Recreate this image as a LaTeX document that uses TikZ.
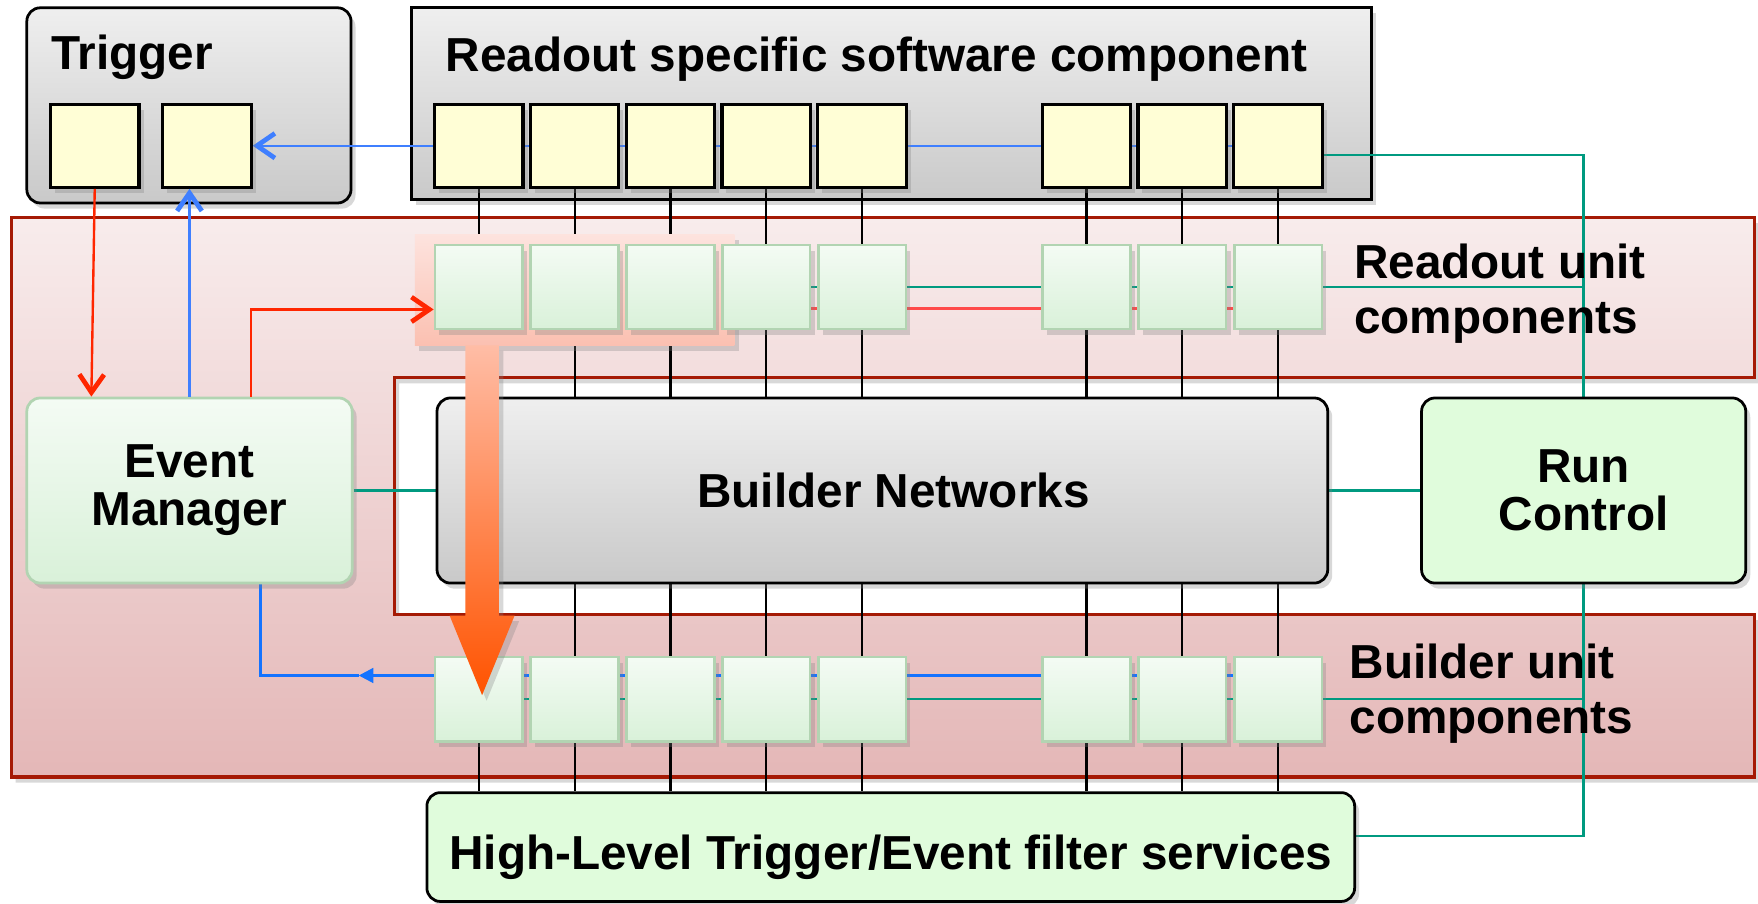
\documentclass[tikz,border=0pt]{standalone}
\usepackage{fontspec}
\setmainfont{Liberation Sans}
\usetikzlibrary{arrows.meta,shadows}

\definecolor{framehi}{HTML}{EFEFEF}
\definecolor{framelo}{HTML}{C9C9C9}
\definecolor{roybg}{HTML}{FFFED6}
\definecolor{unithi}{HTML}{F4FBF4}
\definecolor{unitlo}{HTML}{D9F1D9}
\definecolor{unitedge}{HTML}{B2D4B2}
\definecolor{svcbg}{HTML}{E0FCDC}
\definecolor{pinkhi}{HTML}{F8ECEC}
\definecolor{pinklo}{HTML}{E4B7B7}
\definecolor{pinkedge}{HTML}{A51A05}
\definecolor{glowhi}{HTML}{FDE3DE}
\definecolor{glowlo}{HTML}{FBC0B1}
\definecolor{arrowhi}{HTML}{FFBDA6}
\definecolor{arrowlo}{HTML}{FF5300}
\definecolor{wblue}{HTML}{3F7FFF}
\definecolor{bublue}{HTML}{1573FF}
\definecolor{wred}{HTML}{FF2600}
\definecolor{rowred}{HTML}{FF4A4A}
\definecolor{wteal}{HTML}{009A80}

\pgfdeclarelayer{base}
\pgfdeclarelayer{frames}
\pgfdeclarelayer{wires}
\pgfdeclarelayer{glow}
\pgfdeclarelayer{front}
\pgfsetlayers{base,frames,wires,glow,main,front}

\tikzset{
  softshadow/.style={drop shadow={opacity=0.3,shadow xshift=0.04cm,shadow yshift=-0.05cm}},
  grayframe/.style={draw=black,line width=0.7pt,top color=framehi,bottom color=framelo,inner sep=0pt,softshadow},
  roybox/.style={draw=black,line width=0.8pt,fill=roybg,minimum width=0.79cm,minimum height=0.74cm,inner sep=0pt,softshadow},
  unitbox/.style={draw=unitedge,line width=0.7pt,top color=unithi,bottom color=unitlo,minimum width=0.78cm,minimum height=0.75cm,inner sep=0pt,softshadow},
  svcbox/.style={draw=black,line width=0.7pt,fill=svcbg,rounded corners=0.12cm,inner sep=0pt,softshadow},
  txt/.style={font=\bfseries\fontsize{12.1pt}{14pt}\selectfont,inner sep=0pt},
  tighttxt/.style={font=\bfseries\fontsize{12.1pt}{12.2pt}\selectfont,inner sep=0pt,align=center},
  pinkarea/.style={draw=pinkedge,line width=0.8pt,top color=pinkhi,bottom color=pinklo,softshadow},
  glowbox/.style={top color=glowhi,bottom color=glowlo,softshadow},
  bigarrow/.style={top color=arrowhi,bottom color=arrowlo,softshadow},
  wire/.style={black,line width=0.55pt},
  bluewire/.style={wblue,line width=0.6pt},
  bluerow/.style={bublue,line width=0.7pt},
  redwire/.style={wred,line width=0.6pt},
  redrow/.style={rowred,line width=0.6pt},
  tealwire/.style={wteal,line width=0.6pt},
  barb/.style={-{Straight Barb[length=1.6mm,width=2.2mm,line width=1.2pt]}},
  headtri/.style={-{Triangle[length=1.3mm,width=1.3mm]}}
}

\begin{document}
\begin{tikzpicture}[x=0.01cm,y=-0.01cm]
\useasboundingbox (0,0) rectangle (1568,806);

\begin{pgfonlayer}{base}
  \fill[white] (0,0) rectangle (1568,806);
  % unit components region
  \path[pinkarea] (10,194) -- (1565,194) -- (1565,337) -- (352,337) -- (352,548)
    -- (1565,548) -- (1565,693) -- (10,693) -- cycle;
\end{pgfonlayer}

\begin{pgfonlayer}{frames}
  \node[grayframe,rounded corners=0.12cm,minimum width=2.89cm,minimum height=1.74cm] (trig) at (168.5,94) {};
  \node[grayframe,minimum width=8.56cm,minimum height=1.71cm] (rosw) at (795,92.5) {};
\end{pgfonlayer}

\node[txt,anchor=base west] (trigtitle) at (45,62) {Trigger};
\node[txt,anchor=base west] (roswtitle) at (397,64) {Readout specific software component};

% trigger, readout and unit boxes
\node[roybox] (t1) at (84.5,130) {};
\node[roybox] (t2) at (184.5,130) {};
\foreach \i/\x in {1/427,2/512.5,3/598,4/683.5,5/769,6/969,7/1054.5,8/1140}
  {
    \node[roybox] (r\i) at (\x,130) {};
    \node[unitbox] (ru\i) at (\x,256) {};
    \node[unitbox] (bu\i) at (\x,623.5) {};
  }

\node[grayframe,rounded corners=0.12cm,minimum width=7.94cm,minimum height=1.65cm,txt] (bn) at (787,437.5) {\hspace*{0.2cm}Builder Networks};
\node[unitbox,rounded corners=0.12cm,minimum width=2.9cm,minimum height=1.65cm,tighttxt] (em) at (169,437.5) {Event\\Manager};
\node[svcbox,minimum width=2.89cm,minimum height=1.65cm,tighttxt] (rc) at (1412.5,437.5) {Run\\Control};
\node[svcbox,minimum width=8.27cm,minimum height=0.97cm,txt] (hlt) at (794.5,755.5) {\raisebox{-0.2cm}[0pt][0pt]{High-Level Trigger/Event filter services}};

\node[txt,anchor=west,align=left] (rulabel) at (1207,262) {Readout unit\\components};
\node[txt,anchor=west,align=left] (bulabel) at (1203,619) {Builder unit\\components};

\begin{pgfonlayer}{wires}
  \foreach \i in {1,...,8}
    \draw[wire] (r\i.south) -- (r\i.south |- hlt.north);
  \draw[bluewire,barb] (r8.center) -- (t2.east);
  \draw[tealwire] ([yshift=-0.08cm]r8.east) -| (rc.north);
  \draw[tealwire] ([yshift=0.1cm]hlt.east) -| (rc.south);
  \draw[tealwire] (ru1.center) -- (ru1.center -| rc.north);
  \draw[redrow] ([yshift=-0.19cm]ru1.center) -- ([yshift=-0.19cm]ru8.center);
  \draw[bluerow,headtri] ([yshift=0.21cm]bu8.center) -- ([yshift=0.21cm,xshift=-1.07cm]bu1.center);
  \draw[bluerow] ([yshift=0.21cm,xshift=-1.07cm]bu1.center) -| ([xshift=0.63cm]em.south);
  \draw[tealwire] (bu1.center) -- (bu1.center -| rc.north);
  \draw[tealwire] (em.east) -- (bn.west);
  \draw[tealwire] (bn.east) -- (rc.west);
\end{pgfonlayer}

% trigger and event manager
\draw[redwire,barb] (t1.south) -- ([xshift=-0.03cm]t1.south |- em.north);
\draw[bluewire,barb] (em.north) -- (em.north |- t2.south);
\draw[redwire,barb] ([xshift=0.55cm]em.north) |- ([yshift=-0.2cm]ru1.west);

\begin{pgfonlayer}{glow}
  \path[glowbox] (370,209) rectangle (655,308);
\end{pgfonlayer}

\begin{pgfonlayer}{front}
  \path[bigarrow] (415,308) -- (445,308) -- (445,549) -- (459,549) -- (430,620)
    -- (401,549) -- (415,549) -- cycle;
\end{pgfonlayer}

\end{tikzpicture}
\end{document}
